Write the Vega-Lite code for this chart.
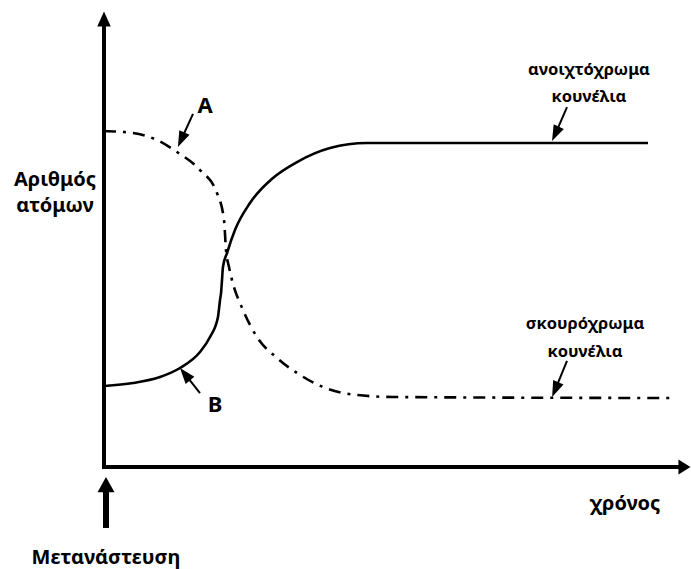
{
  "$schema": "https://vega.github.io/schema/vega-lite/v6.json",
  "width": 586,
  "height": 455,
  "autosize": {"type": "none"},
  "padding": {"left": 104, "top": 12, "right": 1, "bottom": 102},
  "background": "white",
  "config": {"view": {"stroke": null}},
  "datasets": {
    "curves": [
      {"series": "B", "t": 0, "n": 17.8},
      {"series": "B", "t": 4.95, "n": 18.46},
      {"series": "B", "t": 9.56, "n": 19.78},
      {"series": "B", "t": 12.97, "n": 21.76},
      {"series": "B", "t": 16.38, "n": 25.27},
      {"series": "B", "t": 18.09, "n": 28.57},
      {"series": "B", "t": 19.45, "n": 32.97},
      {"series": "B", "t": 19.8, "n": 36.7},
      {"series": "B", "t": 19.97, "n": 38.24},
      {"series": "B", "t": 20.14, "n": 41.1},
      {"series": "B", "t": 20.3, "n": 43.96},
      {"series": "B", "t": 20.99, "n": 47.03},
      {"series": "B", "t": 22.35, "n": 52.09},
      {"series": "B", "t": 24.91, "n": 58.02},
      {"series": "B", "t": 28.84, "n": 63.52},
      {"series": "B", "t": 32.94, "n": 67.03},
      {"series": "B", "t": 38.57, "n": 70.11},
      {"series": "B", "t": 44.88, "n": 71.21},
      {"series": "B", "t": 50.51, "n": 71.21},
      {"series": "B", "t": 92.83, "n": 71.21},
      {"series": "A", "t": 0, "n": 73.85},
      {"series": "A", "t": 4.95, "n": 73.41},
      {"series": "A", "t": 9.04, "n": 71.87},
      {"series": "A", "t": 12.46, "n": 69.23},
      {"series": "A", "t": 16.38, "n": 65.27},
      {"series": "A", "t": 19.28, "n": 60.22},
      {"series": "A", "t": 20.48, "n": 54.29},
      {"series": "A", "t": 20.82, "n": 47.69},
      {"series": "A", "t": 21.33, "n": 43.96},
      {"series": "A", "t": 21.84, "n": 41.1},
      {"series": "A", "t": 23.72, "n": 34.51},
      {"series": "A", "t": 26.11, "n": 28.57},
      {"series": "A", "t": 29.52, "n": 23.96},
      {"series": "A", "t": 32.94, "n": 20.66},
      {"series": "A", "t": 37.37, "n": 17.58},
      {"series": "A", "t": 43.17, "n": 15.82},
      {"series": "A", "t": 49.32, "n": 15.38},
      {"series": "A", "t": 96.59, "n": 15.16}
    ],
    "shafts": [
      {"kind": "axis", "t": 0, "n": 0, "t2": 0, "n2": 97.5},
      {"kind": "axis", "t": 0, "n": 0, "t2": 98.6, "n2": 0},
      {"kind": "migration", "t": 0.34, "n": -13.4, "t2": 0.34, "n2": -4.6},
      {"kind": "pointer", "t": 15.19, "n": 77.6, "t2": 13.17, "n2": 71.93},
      {"kind": "pointer", "t": 16.38, "n": 16.26, "t2": 13.82, "n2": 20.4},
      {"kind": "pointer", "t": 79.01, "n": 79.1, "t2": 77.03, "n2": 73.23},
      {"kind": "pointer", "t": 79.01, "n": 23.3, "t2": 77.0, "n2": 17.01}
    ],
    "heads": [
      {"name": "yaxis", "t": 0, "n": 98.46},
      {"name": "xaxis", "t": 98.8, "n": 0},
      {"name": "migration", "t": 0.34, "n": -3.87},
      {"name": "A", "t": 13.17, "n": 71.93},
      {"name": "B", "t": 13.82, "n": 20.4},
      {"name": "light", "t": 77.03, "n": 73.23},
      {"name": "dark", "t": 77.0, "n": 17.01}
    ],
    "labels": [
      {"kind": "axis", "text": "Αριθμός", "t": -8.36, "n": 61.76},
      {"kind": "axis", "text": "ατόμων", "t": -8.36, "n": 56.04},
      {"kind": "axis", "text": "χρόνος", "t": 88.91, "n": -9.45},
      {"kind": "axis", "text": "Μετανάστευση", "t": 0.34, "n": -21.32},
      {"kind": "letter", "text": "A", "t": 17.24, "n": 77.8},
      {"kind": "letter", "text": "B", "t": 18.94, "n": 12.09},
      {"kind": "curve", "text": "ανοιχτόχρωμα", "t": 82.76, "n": 86.15},
      {"kind": "curve", "text": "κουνέλια", "t": 82.76, "n": 80.22},
      {"kind": "curve", "text": "σκουρόχρωμα", "t": 82.08, "n": 30.33},
      {"kind": "curve", "text": "κουνέλια", "t": 82.08, "n": 24.18}
    ]
  },
  "encoding": {
    "x": {"field": "t", "type": "quantitative", "scale": {"domain": [0, 100], "nice": false, "zero": false}, "axis": null},
    "y": {"field": "n", "type": "quantitative", "scale": {"domain": [0, 100], "nice": false, "zero": false}, "axis": null}
  },
  "layer": [
    {
      "data": {"name": "curves"},
      "transform": [{"filter": "datum.series === 'A'"}],
      "mark": {"type": "line", "interpolate": "monotone", "color": "#000", "strokeWidth": 2.6, "strokeDash": [12, 7, 3, 7], "clip": false},
      "encoding": {"order": {"field": "t", "type": "quantitative"}}
    },
    {
      "data": {"name": "curves"},
      "transform": [{"filter": "datum.series === 'B'"}],
      "mark": {"type": "line", "interpolate": "monotone", "color": "#000", "strokeWidth": 2.6, "clip": false},
      "encoding": {"order": {"field": "t", "type": "quantitative"}}
    },
    {
      "data": {"name": "shafts"},
      "transform": [{"filter": "datum.kind === 'axis'"}],
      "mark": {"type": "rule", "color": "#000", "strokeWidth": 4, "strokeCap": "square"},
      "encoding": {"x2": {"field": "t2"}, "y2": {"field": "n2"}}
    },
    {
      "data": {"name": "shafts"},
      "transform": [{"filter": "datum.kind === 'migration'"}],
      "mark": {"type": "rule", "color": "#000", "strokeWidth": 6},
      "encoding": {"x2": {"field": "t2"}, "y2": {"field": "n2"}}
    },
    {
      "data": {"name": "shafts"},
      "transform": [{"filter": "datum.kind === 'pointer'"}],
      "mark": {"type": "rule", "color": "#000", "strokeWidth": 2},
      "encoding": {"x2": {"field": "t2"}, "y2": {"field": "n2"}}
    },
    {
      "data": {"name": "heads"},
      "transform": [{"filter": "datum.name === 'yaxis'"}],
      "mark": {"type": "point", "filled": true, "color": "#000", "opacity": 1, "shape": "M0,-1L0.9,1L-0.9,1Z", "size": 225, "angle": 0}
    },
    {
      "data": {"name": "heads"},
      "transform": [{"filter": "datum.name === 'xaxis'"}],
      "mark": {"type": "point", "filled": true, "color": "#000", "opacity": 1, "shape": "M0,-1L1,0.6L-1,0.6Z", "size": 225, "angle": 90}
    },
    {
      "data": {"name": "heads"},
      "transform": [{"filter": "datum.name === 'migration'"}],
      "mark": {"type": "point", "filled": true, "color": "#000", "opacity": 1, "shape": "M0,-0.9L1,0.9L-1,0.9Z", "size": 289, "angle": 0}
    },
    {
      "data": {"name": "heads"},
      "transform": [{"filter": "datum.name === 'A'"}],
      "mark": {"type": "point", "filled": true, "color": "#000", "opacity": 1, "shape": "M0,-1L0.7,1L-0.7,1Z", "size": 256, "angle": 204}
    },
    {
      "data": {"name": "heads"},
      "transform": [{"filter": "datum.name === 'B'"}],
      "mark": {"type": "point", "filled": true, "color": "#000", "opacity": 1, "shape": "M0,-1L0.7,1L-0.7,1Z", "size": 256, "angle": -39}
    },
    {
      "data": {"name": "heads"},
      "transform": [{"filter": "datum.name === 'light'"}],
      "mark": {"type": "point", "filled": true, "color": "#000", "opacity": 1, "shape": "M0,-1L0.7,1L-0.7,1Z", "size": 256, "angle": 205}
    },
    {
      "data": {"name": "heads"},
      "transform": [{"filter": "datum.name === 'dark'"}],
      "mark": {"type": "point", "filled": true, "color": "#000", "opacity": 1, "shape": "M0,-1L0.7,1L-0.7,1Z", "size": 256, "angle": 203}
    },
    {
      "data": {"name": "labels"},
      "transform": [{"filter": "datum.kind === 'axis'"}],
      "mark": {"type": "text", "font": "Noto Sans", "fontWeight": 700, "color": "#000", "fontSize": 20, "align": "center", "baseline": "alphabetic"},
      "encoding": {"text": {"field": "text"}}
    },
    {
      "data": {"name": "labels"},
      "transform": [{"filter": "datum.kind === 'letter'"}],
      "mark": {"type": "text", "font": "Noto Sans", "fontWeight": 700, "color": "#000", "fontSize": 22, "align": "center", "baseline": "alphabetic"},
      "encoding": {"text": {"field": "text"}}
    },
    {
      "data": {"name": "labels"},
      "transform": [{"filter": "datum.kind === 'curve'"}],
      "mark": {"type": "text", "font": "Noto Sans", "fontWeight": 700, "color": "#000", "fontSize": 16.5, "align": "center", "baseline": "alphabetic"},
      "encoding": {"text": {"field": "text"}}
    }
  ]
}
